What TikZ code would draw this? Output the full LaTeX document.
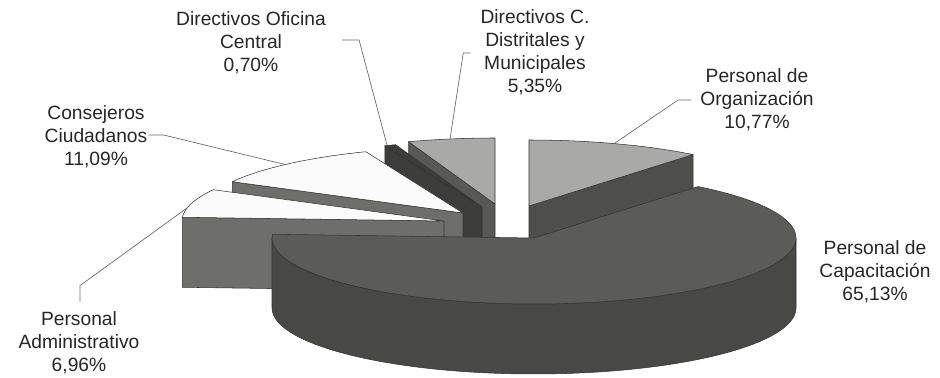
\documentclass[tikz,border=0pt]{standalone}
\usepackage{fontspec}
\setmainfont{Liberation Sans}
\usepackage{tikz}
\usetikzlibrary{calc,
                positioning}
\definecolor{lightpie}{HTML}{A9A9A7}
\definecolor{distcut}{HTML}{585855}
\definecolor{orgcut}{HTML}{4E4E4A}
\definecolor{oficpie}{HTML}{3C3C3A}
\definecolor{whitepie}{HTML}{FBFBFB}
\definecolor{greyface}{HTML}{6E6E6B}
\definecolor{capatop}{HTML}{5B5B57}
\definecolor{capaside}{HTML}{484845}
\tikzset{
        lbl/.style={align=center, inner sep=0pt, text=black!85,
                    font=\fontsize{14.5}{17.3}\selectfont},
        leader/.style={draw=black!60, line width=0.5pt},
        slab/.style={draw=black!80, line width=0.4pt, line join=round},
 }

\begin{document}
\begin{tikzpicture}[x=0.0265cm, y=-0.0265cm]
    \useasboundingbox (0,0) rectangle (940,377);

    \begin{scope}[shift={(495,204)}]
        \filldraw[slab, fill=distcut] (0,0) -- ({262*sin(340.74)},{-66*cos(340.74)}) -- ++(0,70) -- (0,70) -- cycle;
        \filldraw[slab, fill=lightpie] (0,0) -- plot[domain=340.74:360, samples=20] ({262*sin(\x)},{-66*cos(\x)}) -- cycle;
    \end{scope}

    \begin{scope}[shift={(529,206)}]
        \filldraw[slab, fill=orgcut] (0,0) -- ({262*sin(38.77)},{-66*cos(38.77)}) -- ++(0,70) -- (0,70) -- cycle;
        \filldraw[slab, fill=lightpie] (0,0) -- plot[domain=0:38.77, samples=30] ({262*sin(\x)},{-66*cos(\x)}) -- cycle;
    \end{scope}

    \begin{scope}[shift={(482,207)}]
        \filldraw[slab, fill=oficpie] (0,0) -- ({262*sin(338.22)},{-66*cos(338.22)}) -- ++(0,70) -- (0,70) -- cycle;
        \filldraw[slab, fill=oficpie] (0,0) -- plot[domain=338.22:340.74, samples=5] ({262*sin(\x)},{-66*cos(\x)}) -- cycle;
    \end{scope}

    \begin{scope}[shift={(463,213)}]
        \filldraw[slab, fill=greyface] (0,0) -- ({262*sin(298.3)},{-66*cos(298.3)}) -- ++(0,70) -- (0,70) -- cycle;
        \filldraw[slab, fill=whitepie] (0,0) -- plot[domain=298.3:338.22, samples=30] ({262*sin(\x)},{-66*cos(\x)}) -- cycle;
    \end{scope}

    \begin{scope}[shift={(444,221)}]
        \filldraw[slab, fill=greyface] (0,0) -- ({262*sin(273.24)},{-66*cos(273.24)}) -- ++(0,70) -- (0,70) -- cycle;
        \filldraw[slab, fill=whitepie] (0,0) -- plot[domain=273.24:298.3, samples=20] ({262*sin(\x)},{-66*cos(\x)}) -- cycle;
    \end{scope}

    \begin{scope}[shift={(534,238)}]
        \filldraw[slab, fill=capaside] plot[domain=90:270, samples=60] ({262*sin(\x)},{-66*cos(\x)})
            -- plot[domain=270:90, samples=60] ({262*sin(\x)},{70-66*cos(\x)}) -- cycle;
        \filldraw[slab, fill=capatop] (0,0) -- plot[domain=38.77:273.24, samples=80] ({262*sin(\x)},{-66*cos(\x)}) -- cycle;
    \end{scope}

    \node[lbl] (lblOfic) at (251,43) {Directivos Oficina\\Central\\0,70\%};
    \node[lbl] (lblDist) at (535,52) {Directivos C.\\Distritales y\\Municipales\\5,35\%};
    \node[lbl] (lblCons) at (96,137) {Consejeros\\Ciudadanos\\11,09\%};
    \node[lbl] (lblOrg) at (757,100) {Personal de\\Organización\\10,77\%};
    \node[lbl] (lblAdmin) at (79,343) {Personal\\Administrativo\\6,96\%};
    \node[lbl] (lblCapa) at (875,272) {Personal de\\Capacitación\\65,13\%};

    \coordinate (tipOfic) at (387,145);
    \coordinate (tipDist) at (450,139);
    \coordinate (tipCons) at (285,164.5);
    \coordinate (tipOrg) at (615,143);
    \coordinate (tipAdmin) at (187,208);

    \draw[leader] ($(lblOfic.east)+(16,-3)$) -- ++(17,0) -- (tipOfic);
    \draw[leader] ($(lblDist.west)+(-10,1)$) -- ++(-7,0) -- (tipDist);
    \draw[leader] ($(lblCons.east)+(1,-2)$) -- ++(15,0) -- (tipCons);
    \draw[leader] ($(lblOrg.west)+(-9,0)$) -- ++(-13,0) -- (tipOrg);
    \draw[leader] ($(lblAdmin.north)+(1,-10)$) -- ++(0,-16) -- (tipAdmin);
\end{tikzpicture}
\end{document}
